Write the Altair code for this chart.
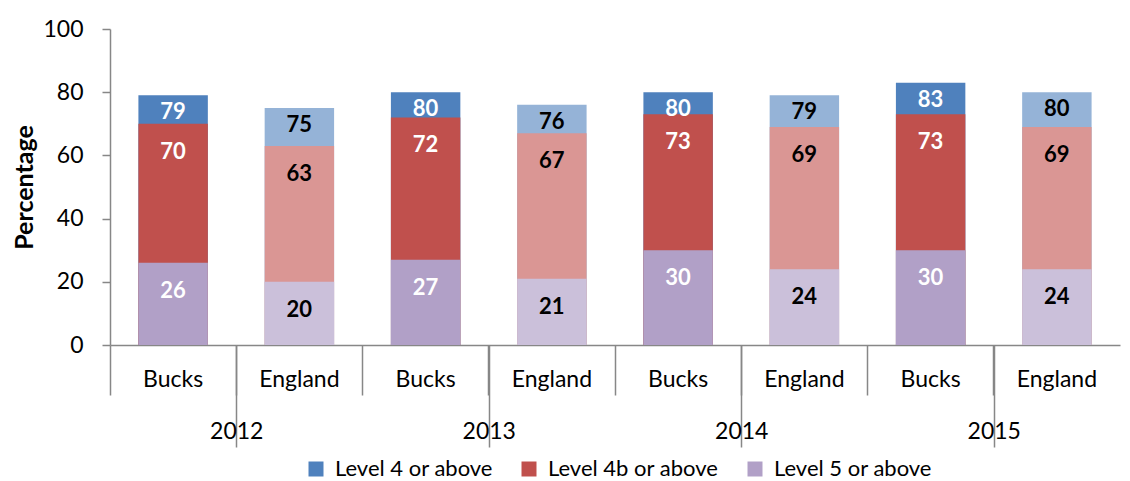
import altair as alt
import pandas as pd

years = ["2012", "2013", "2014", "2015"]
entities = ["Bucks", "England"]
levels = ["Level 4 or above", "Level 4b or above", "Level 5 or above"]

level4_bucks = [79, 80, 80, 83]
level4_england = [75, 76, 79, 80]
level4b_bucks = [70, 72, 73, 73]
level4b_england = [63, 67, 69, 69]
level5_bucks = [26, 27, 30, 30]
level5_england = [20, 21, 24, 24]

series = {
    ("Level 4 or above", "Bucks"): level4_bucks,
    ("Level 4 or above", "England"): level4_england,
    ("Level 4b or above", "Bucks"): level4b_bucks,
    ("Level 4b or above", "England"): level4b_england,
    ("Level 5 or above", "Bucks"): level5_bucks,
    ("Level 5 or above", "England"): level5_england,
}

rows = []
for lvl in levels:
    for ent in entities:
        for i, yr in enumerate(years):
            rows.append({
                "Year": yr,
                "Entity": ent,
                "Level": lvl,
                "key": yr + " " + ent,
                "series": lvl + "|" + ent,
                "value": series[(lvl, ent)][i],
            })
df = pd.DataFrame(rows)

keys = [y + " " + e for y in years for e in entities]
series_domain = [l + "|" + e for l in levels for e in entities]
series_range = ["#4F81BD", "#95B3D7", "#C0504D", "#DA9694", "#B1A0C7", "#CBC0DA"]
legend_values = [l + "|Bucks" for l in levels]

FONT = "Lato"
GRAY = "#878787"
FS = 23

x_enc = alt.X(
    "key:N",
    sort=keys,
    scale=alt.Scale(domain=keys, paddingInner=0, paddingOuter=0),
    axis=alt.Axis(
        title=None,
        orient="bottom",
        labelExpr="split(datum.label, ' ')[1]",
        labelFontSize=FS,
        labelColor="#000000",
        labelFont=FONT,
        labelPadding=-27,
        labelBaseline="top",
        bandPosition=0,
        ticks=True,
        tickSize=50,
        tickColor=GRAY,
        tickWidth=1.5,
        domainColor=GRAY,
        domainWidth=1.5,
        labelAngle=0,
    ),
)

y_enc = alt.Y(
    "value:Q",
    stack=None,
    scale=alt.Scale(domain=[0, 100]),
    axis=alt.Axis(
        title="Percentage",
        titleFont=FONT,
        titleFontSize=25,
        titleFontWeight="bold",
        titleColor="#000000",
        titlePadding=5,
        values=[0, 20, 40, 60, 80, 100],
        labelFont=FONT,
        labelFontSize=FS,
        labelColor="#000000",
        labelPadding=19,
        tickColor=GRAY,
        tickSize=8,
        tickWidth=1.5,
        domainColor=GRAY,
        domainWidth=1.5,
        grid=False,
    ),
)

bars = alt.Chart(df).mark_bar(width=alt.RelativeBandSize(0.55)).encode(
    x=x_enc,
    y=y_enc,
    color=alt.Color(
        "series:N",
        scale=alt.Scale(domain=series_domain, range=series_range),
        legend=alt.Legend(
            title=None,
            orient="none",
            legendX=195,
            legendY=429,
            direction="horizontal",
            values=legend_values,
            labelExpr="split(datum.label, '|')[0]",
            labelFont=FONT,
            labelFontSize=22,
            labelColor="#000000",
            labelLimit=0,
            labelOffset=8,
            symbolType="square",
            symbolSize=225,
            symbolStrokeWidth=0,
            columnPadding=25,
            padding=0,
        ),
    ),
)

label_base = alt.Chart(df).encode(
    x=alt.X("key:N", sort=keys),
    y=alt.Y("value:Q"),
    text=alt.Text("value:Q"),
    color=alt.condition(
        alt.datum.Entity == "Bucks", alt.value("#FFFFFF"), alt.value("#000000")
    ),
)

labels_top = label_base.mark_text(
    font=FONT, fontSize=22, fontWeight="bold", baseline="middle", dy=17
).transform_filter(alt.datum.Level == "Level 4 or above")

labels_rest = label_base.mark_text(
    font=FONT, fontSize=22, fontWeight="bold", baseline="middle", dy=28
).transform_filter(alt.datum.Level != "Level 4 or above")

year_df = pd.DataFrame({"Year": years})

year_ticks = alt.Chart(year_df).mark_text(opacity=0, text="").encode(
    x=alt.X(
        "Year:N",
        sort=years,
        scale=alt.Scale(domain=years, paddingInner=0, paddingOuter=0),
        axis=alt.Axis(
            title=None,
            orient="bottom",
            domain=False,
            labels=False,
            bandPosition=0,
            tickSize=102,
            tickColor=GRAY,
            tickWidth=1.5,
        ),
    ),
    y=alt.value(0),
)

year_labels = alt.Chart(year_df).mark_text(opacity=0, text="").encode(
    x=alt.X(
        "Year:N",
        sort=years,
        scale=alt.Scale(domain=years, paddingInner=0, paddingOuter=0),
        axis=alt.Axis(
            title=None,
            orient="bottom",
            domain=False,
            ticks=False,
            labelFontSize=FS,
            labelColor="#000000",
            labelFont=FONT,
            labelPadding=75,
            labelBaseline="top",
            labelAngle=0,
        ),
    ),
    y=alt.value(0),
)

main = alt.layer(bars, labels_top, labels_rest)

chart = alt.layer(main, year_ticks, year_labels).resolve_scale(x="independent").properties(
    width=1010,
    height=316,
    autosize=alt.AutoSizeParams(type="none"),
    padding={"left": 102, "top": 21, "right": 2, "bottom": 136},
).configure_view(stroke=None)

chart.save("out.html", embed_options={"renderer": "svg", "actions": False})
